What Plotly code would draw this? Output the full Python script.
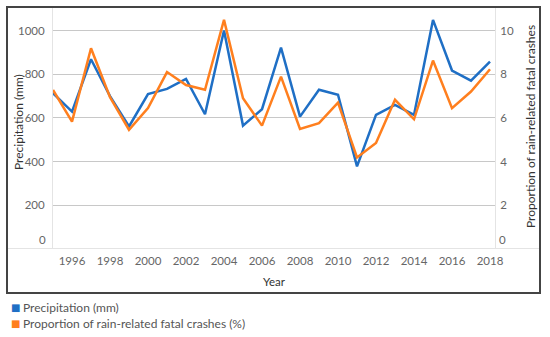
import plotly.graph_objects as go

years = list(range(1995, 2019))
precipitation = [713, 629, 869, 700, 561, 709, 733, 779, 617, 1000, 565, 640,
                 922, 606, 729, 706, 378, 614, 660, 614, 1049, 817, 771, 858]
proportion = [7.28, 5.83, 9.19, 6.95, 5.46, 6.45, 8.10, 7.51, 7.29, 10.49, 6.90, 5.65,
              7.89, 5.50, 5.76, 6.70, 4.19, 4.85, 6.83, 5.94, 8.63, 6.45, 7.21, 8.23]
x_ticks = list(range(1996, 2019, 2))
left_ticks = [200, 400, 600, 800, 1000]
right_ticks = [2, 4, 6, 8, 10]
series_names = ["Precipitation (mm)", "Proportion of rain-related fatal crashes (%)"]

BLUE = "#1f6fc5"
ORANGE = "#ff7f1e"
FONT = "Lato"

fig = go.Figure()
fig.add_trace(go.Scatter(x=years, y=precipitation, mode="lines", name=series_names[0],
                         line=dict(color=BLUE, width=2.5), showlegend=False, yaxis="y"))
fig.add_trace(go.Scatter(x=years, y=proportion, mode="lines", name=series_names[1],
                         line=dict(color=ORANGE, width=2.5), showlegend=False, yaxis="y2"))

L, R, T, B = 53, 55, 7, 88
W, H = 550, 337
pw, ph = W - L - R, H - T - B

def px(xp):
    return (xp - L) / pw

def py(yp):
    return (H - B - yp) / ph

fig.update_layout(
    width=W, height=H,
    margin=dict(l=L, r=R, t=T, b=B, autoexpand=False),
    paper_bgcolor="white", plot_bgcolor="white",
    font=dict(family=FONT, size=11, color="#666"),
    xaxis=dict(range=[1995, 1995 + pw / 19.0], tickvals=x_ticks, showgrid=False,
               zeroline=False, showline=False, ticks="", ticklabelstandoff=3,
               tickfont=dict(size=11.5, color="#666")),
    yaxis=dict(range=[0, 1108], tickvals=left_ticks, showgrid=True, gridcolor="#c8c8c8",
               gridwidth=1, zeroline=False, showline=True, linecolor="#e4e4e4", linewidth=1,
               ticks="", ticklabelstandoff=5, tickfont=dict(size=11.5, color="#666")),
    yaxis2=dict(range=[0, 11.08], tickvals=right_ticks, overlaying="y", side="right",
                showgrid=False, zeroline=False, showline=True, linecolor="#e4e4e4",
                linewidth=1, ticks="", ticklabelstandoff=2,
                tickfont=dict(size=11.5, color="#666")),
    showlegend=False,
)

# zero labels, lifted above the baseline as in the reference
fig.add_annotation(text="0", xref="paper", yref="y", x=0, y=0, xanchor="right",
                   yanchor="bottom", xshift=-5, yshift=1, showarrow=False,
                   font=dict(size=11.5, color="#666"))
fig.add_annotation(text="0", xref="paper", yref="y2", x=1, y=0, xanchor="left",
                   yanchor="bottom", xshift=2, yshift=1, showarrow=False,
                   font=dict(size=11.5, color="#666"))

fig.add_annotation(text="Precipitation (mm)", xref="paper", yref="paper",
                   x=px(18), y=py(122), textangle=-90, showarrow=False,
                   font=dict(size=12, color="#333"), xanchor="center", yanchor="middle")
fig.add_annotation(text="Proportion of rain-related fatal crashes", xref="paper", yref="paper",
                   x=px(530), y=py(127), textangle=-90, showarrow=False,
                   font=dict(size=12, color="#333"), xanchor="center", yanchor="middle")
fig.add_annotation(text="Year", xref="paper", yref="paper",
                   x=px(274), y=py(282), showarrow=False,
                   font=dict(size=11.5, color="#333"), xanchor="center", yanchor="middle")

# legend (drawn as annotations)
for name, color, yc in [(series_names[0], BLUE, 307), (series_names[1], ORANGE, 323)]:
    fig.add_annotation(text=f'<span style="color:{color}">■</span>', xref="paper", yref="paper",
                       x=px(9), y=py(yc), showarrow=False, xanchor="left", yanchor="middle",
                       font=dict(size=10, family="DejaVu Sans"))
    fig.add_annotation(text=name, xref="paper", yref="paper",
                       x=px(21), y=py(yc), showarrow=False, xanchor="left", yanchor="middle",
                       font=dict(size=12, color="#555"))

# bottom axis line across the panel
fig.add_shape(type="line", xref="paper", yref="paper", x0=px(8), x1=px(539),
              y0=py(248.5), y1=py(248.5), line=dict(color="#e4e4e4", width=1))
# panel border
fig.add_shape(type="rect", xref="paper", yref="paper", x0=px(7), x1=px(540),
              y0=py(293), y1=py(7), line=dict(color="#444", width=2), layer="above")

fig.write_html("out.html", config={"displayModeBar": False},
               post_script="document.body.style.margin='0px';")
